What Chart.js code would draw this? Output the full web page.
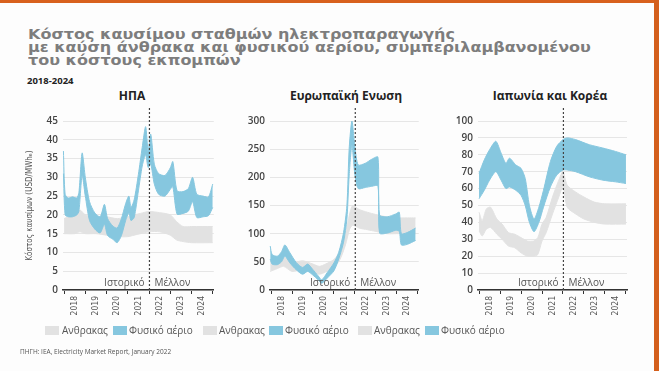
<!DOCTYPE html>
<html>
<head>
<meta charset="utf-8">
<script src="https://cdn.jsdelivr.net/npm/chart.js@4.4.1/dist/chart.umd.min.js"></script>
<style>
  html, body { margin: 0; padding: 0; }
  body { width: 659px; height: 371px; position: relative; overflow: hidden; background: #fdfdfd; font-family: 'Open Sans', sans-serif; }
  .abs { position: absolute; }
  .stripe { left: 0; top: 0; width: 659px; height: 3px; background: #d8611d; z-index: 5; }
  .rbar { left: 654px; top: 0; width: 5px; height: 371px; background: #d45f1c; z-index: 5; }
  .title { left: 28px; top: 28px; font-family: 'DejaVu Sans', sans-serif; font-weight: 700; font-size: 13.5px; line-height: 13px; color: #7d7d7d; white-space: nowrap; transform-origin: 0 0; }
  .title span { display: inline-block; }
  .period { left: 27px; top: 74px; font-weight: 700; font-size: 9.5px; color: #222; }
  .ctitle { top: 87px; font-weight: 700; font-size: 12px; color: #222; text-align: center; white-space: nowrap; }
  .box { width: 14px; height: 9px; top: 326px; }
  .coal { background: #e2e2e2; }
  .gas { background: #86c7df; }
  .ltxt { top: 323px; font-size: 10px; color: #555; white-space: nowrap; }
  .src { left: 20px; top: 347px; font-size: 6.5px; color: #555; white-space: nowrap; }
  canvas { display: block; }
</style>
</head>
<body>
<div class="abs stripe"></div>
<div class="abs rbar"></div>

<div class="abs title" id="title"><span id="tl1">Κόστος καυσίμου σταθμών ηλεκτροπαραγωγής</span><br>με καύση άνθρακα και φυσικού αερίου, συμπεριλαμβανομένου<br>του κόστους εκπομπών</div>
<div class="abs period">2018-2024</div>

<div class="abs ctitle" style="left:72px;width:120px;">ΗΠΑ</div>
<div class="abs ctitle" style="left:276px;width:140px;">Ευρωπαϊκή Ενωση</div>
<div class="abs ctitle" style="left:480px;width:140px;">Ιαπωνία και Κορέα</div>

<div class="abs" style="left:0px;top:100px;width:225px;height:225px;"><canvas id="cUS"></canvas></div>
<div class="abs" style="left:225px;top:100px;width:205px;height:225px;"><canvas id="cEU"></canvas></div>
<div class="abs" style="left:430px;top:100px;width:229px;height:225px;"><canvas id="cJP"></canvas></div>

<div class="abs box coal" style="left:45px;"></div><div class="abs ltxt" style="left:62px;">Ανθρακας</div>
<div class="abs box gas" style="left:113px;"></div><div class="abs ltxt" style="left:129px;">Φυσικό αέριο</div>
<div class="abs box coal" style="left:203px;"></div><div class="abs ltxt" style="left:219px;">Ανθρακας</div>
<div class="abs box gas" style="left:269px;"></div><div class="abs ltxt" style="left:285px;">Φυσικό αέριο</div>
<div class="abs box coal" style="left:358px;"></div><div class="abs ltxt" style="left:374px;">Ανθρακας</div>
<div class="abs box gas" style="left:425px;"></div><div class="abs ltxt" style="left:441px;">Φυσικό αέριο</div>

<div class="abs src">ΠΗΓΗ: IEA, Electricity Market Report, January 2022</div>

<script>
/* ── Data (USD/MWh, x = decimal year) ── */
const yearTicks = [2018, 2018.5, 2019, 2019.5, 2020, 2020.5, 2021, 2021.5, 2022, 2022.5, 2023, 2023.5, 2024, 2024.5, 2025];

// US
const usGasX  = [2017.97, 2018.05, 2018.2, 2018.4, 2018.6, 2018.7, 2018.85, 2019.0, 2019.2, 2019.45, 2019.7, 2019.9, 2020.05, 2020.3, 2020.5, 2020.7, 2020.9, 2021.05, 2021.15, 2021.3, 2021.5, 2021.68, 2021.84, 2021.96, 2022.08, 2022.25, 2022.45, 2022.75, 2023.0, 2023.12, 2023.32, 2023.6, 2023.85, 2024.05, 2024.25, 2024.55, 2024.8, 2025.0];
const usGasHi = [37, 25.5, 24.5, 24.8, 24.5, 26, 36.5, 30, 23.5, 20.5, 19.5, 22.8, 19, 17, 16.5, 19, 23, 25, 22, 24, 30.8, 38, 43.5, 37, 41.5, 33.5, 31, 30.5, 32.5, 34.2, 26.4, 26.2, 27, 30, 25.5, 25, 24.8, 28.2];
const usGasLo = [31, 20, 19.5, 19.5, 20, 21, 30.5, 25, 18.5, 16.2, 15.2, 17.5, 14.5, 13.5, 12.6, 14.5, 18.5, 20.5, 18.5, 19.3, 26.4, 33, 36, 32.6, 33.5, 28.2, 25.5, 25, 26.8, 27.5, 20.2, 20.4, 21, 23.5, 19.3, 19.5, 19.8, 22];
const usCoalX  = [2018, 2018.5, 2018.75, 2019, 2019.5, 2020, 2020.5, 2021, 2021.3, 2021.6, 2022, 2022.5, 2023, 2023.3, 2023.6, 2024, 2025];
const usCoalHi = [19, 20.4, 21.3, 20, 19.5, 19.5, 19, 19.5, 20, 20.4, 20.9, 20.6, 20, 18.2, 16.9, 16.9, 16.9];
const usCoalLo = [15, 15, 15.5, 15, 15, 14.6, 14.2, 14.2, 14.6, 15, 15.5, 15.5, 14.6, 13.3, 12.9, 12.6, 12.6];

// EU
const euGasX  = [2017.96, 2018.05, 2018.3, 2018.5, 2018.66, 2018.9, 2019.2, 2019.5, 2019.75, 2019.98, 2020.25, 2020.42, 2020.68, 2021.0, 2021.23, 2021.46, 2021.62, 2021.73, 2021.86, 2022.0, 2022.16, 2022.5, 2022.8, 2023.1, 2023.18, 2023.55, 2023.95, 2024.12, 2024.22, 2024.5, 2024.9];
const euGasHi = [78, 63, 60, 68, 80, 66, 49, 40, 46, 37, 25, 18, 31, 48, 67, 102, 150, 252, 300, 255, 222, 225, 232, 236, 133, 130, 135, 138, 100, 102, 110];
const euGasLo = [55, 46, 45, 50, 60, 48, 36, 28, 33, 27, 18, 12, 21, 34, 55, 85, 126, 204, 257, 205, 180, 182, 184, 185, 101, 101, 106, 104, 80, 81, 88];
const euCoalX  = [2017.96, 2018.3, 2018.6, 2019.0, 2019.5, 2020.0, 2020.3, 2020.6, 2021.0, 2021.3, 2021.55, 2021.75, 2021.9, 2022.2, 2022.6, 2023.0, 2023.5, 2024.0, 2024.5, 2024.9];
const euCoalHi = [52, 55, 60, 48, 52, 46, 42, 46, 54, 70, 100, 135, 150, 143, 138, 134, 130, 128, 128, 128];
const euCoalLo = [33, 38, 42, 33, 36, 32, 28, 32, 40, 55, 80, 108, 115, 110, 107, 104, 100, 100, 100, 100];

// Japan & Korea
const jpGasX  = [2018.0, 2018.25, 2018.5, 2018.8, 2019.05, 2019.28, 2019.45, 2019.75, 2020.0, 2020.2, 2020.4, 2020.62, 2020.85, 2021.07, 2021.4, 2021.7, 2022.0, 2022.2, 2022.6, 2023.25, 2023.9, 2024.5, 2025.0];
const jpGasHi = [69, 77, 83, 88, 81, 75, 78, 74, 72, 66, 50, 42, 49, 59, 76, 85, 89, 90, 89, 86, 84, 82, 80];
const jpGasLo = [54, 59, 65, 70, 65, 60, 61, 59, 56, 50, 40, 34.5, 40, 49, 61, 68, 71, 71, 70, 67, 65, 64, 63];
const jpCoalX  = [2018.0, 2018.15, 2018.35, 2018.55, 2018.85, 2019.1, 2019.4, 2019.7, 2020.0, 2020.3, 2020.6, 2020.8, 2021.0, 2021.2, 2021.5, 2021.8, 2022.0, 2022.2, 2022.6, 2023.0, 2023.5, 2024.0, 2025.0];
const jpCoalHi = [46, 41, 48, 49, 42, 39, 34, 33, 31, 29, 29, 31, 39, 43, 55, 65, 70, 62, 58, 55, 52, 51, 51];
const jpCoalLo = [35, 32, 36, 37, 33, 30, 26, 25, 22, 20, 20, 21, 29, 34, 45, 55, 61, 49, 45, 42, 40, 39, 39];

const splitYear = 2022.02;

/* stretch the heading so its first line spans the same width as the original */
(function fitTitle() {
  const w = document.getElementById('tl1').getBoundingClientRect().width;
  if (w > 0) document.getElementById('title').style.transform = 'scaleX(' + (427 / w) + ')';
})();

/* ── Colours / fonts ── */
const GAS  = 'rgb(134,199,223)';
const COAL = 'rgb(226,226,226)';
Chart.defaults.font.family = "'Open Sans', sans-serif";
Chart.defaults.color = '#555';

/* ── Dotted history / forecast split ── */
const splitLine = {
  id: 'splitLine',
  afterDatasetsDraw(chart, args, opts) {
    const { ctx, chartArea } = chart;
    const x = chart.scales.x.getPixelForValue(opts.x);
    ctx.save();
    ctx.strokeStyle = '#444';
    ctx.lineWidth = 1.2;
    ctx.setLineDash([2, 2]);
    ctx.beginPath();
    ctx.moveTo(x, chartArea.top - 13);
    ctx.lineTo(x, chartArea.bottom);
    ctx.stroke();
    ctx.setLineDash([]);
    ctx.fillStyle = '#555';
    ctx.font = "10px 'Open Sans', sans-serif";
    ctx.textBaseline = 'middle';
    ctx.textAlign = 'right';
    ctx.fillText('Ιστορικό', x - 5, chartArea.bottom - 7);
    ctx.textAlign = 'left';
    ctx.fillText('Μέλλον', x + 5, chartArea.bottom - 7);
    ctx.restore();
  }
};

function pts(xs, ys) { return xs.map((x, i) => ({ x: x, y: ys[i] })); }

function band(xs, hi, lo, color) {
  const base = { borderColor: color, backgroundColor: color, borderWidth: 1, pointRadius: 0, tension: 0.25, clip: 4 };
  return [
    { ...base, data: pts(xs, lo), fill: false },
    { ...base, data: pts(xs, hi), fill: '-1' }
  ];
}

function mkChart(id, cfg) {
  const canvas = document.getElementById(id);
  return new Chart(canvas, cfg);
}

function chartCfg(datasets, yMax, yStep, yWidth, padRight, yTitle) {
  return {
    type: 'line',
    data: { datasets: datasets },
    plugins: [splitLine],
    options: {
      responsive: true,
      maintainAspectRatio: false,
      animation: false,
      layout: { padding: { top: 21, right: padRight, left: 0, bottom: 0 } },
      plugins: {
        legend: { display: false },
        tooltip: { enabled: false },
        splitLine: { x: splitYear }
      },
      scales: {
        x: {
          type: 'linear',
          min: 2017.95,
          max: 2025.05,
          afterBuildTicks: s => { s.ticks = yearTicks.map(v => ({ value: v })); },
          afterFit: s => { s.height = 35; },
          grid: {
            drawOnChartArea: false,
            drawTicks: true,
            tickLength: 4,
            tickColor: c => (c.tick && Number.isInteger(c.tick.value)) ? '#333' : 'rgba(0,0,0,0)'
          },
          border: { display: true, color: '#333', width: 1.5 },
          ticks: {
            autoSkip: false,
            minRotation: 90,
            maxRotation: 90,
            padding: 2,
            font: { size: 8.5, family: "'Liberation Sans Narrow', 'DejaVu Sans Condensed', sans-serif" },
            color: '#555',
            callback: v => Number.isInteger(v) ? '' : String(Math.floor(v))
          }
        },
        y: {
          min: 0,
          max: yMax,
          afterFit: s => { s.width = yWidth; },
          grid: { color: '#e6e6e6', drawTicks: false },
          border: { display: false },
          title: yTitle ? {
            display: true,
            text: yTitle,
            color: '#555',
            padding: { top: 25, bottom: 0 },
            font: { size: 8, family: "'Liberation Sans Narrow', 'DejaVu Sans Condensed', sans-serif" }
          } : { display: false },
          ticks: {
            stepSize: yStep,
            padding: 5,
            color: '#444',
            font: { size: 10, weight: '600' }
          }
        }
      }
    }
  };
}

mkChart('cUS', chartCfg(
  [...band(usGasX, usGasHi, usGasLo, GAS), ...band(usCoalX, usCoalHi, usCoalLo, COAL)],
  45, 5, 63, 8, 'Κόστος καυσίμων (USD/MWhₑ)'
));
mkChart('cEU', chartCfg(
  [...band(euGasX, euGasHi, euGasLo, GAS), ...band(euCoalX, euCoalHi, euCoalLo, COAL)],
  300, 50, 45, 10, null
));
mkChart('cJP', chartCfg(
  [...band(jpGasX, jpGasHi, jpGasLo, GAS), ...band(jpCoalX, jpCoalHi, jpCoalLo, COAL)],
  100, 10, 48, 32, null
));
</script>
</body>
</html>
